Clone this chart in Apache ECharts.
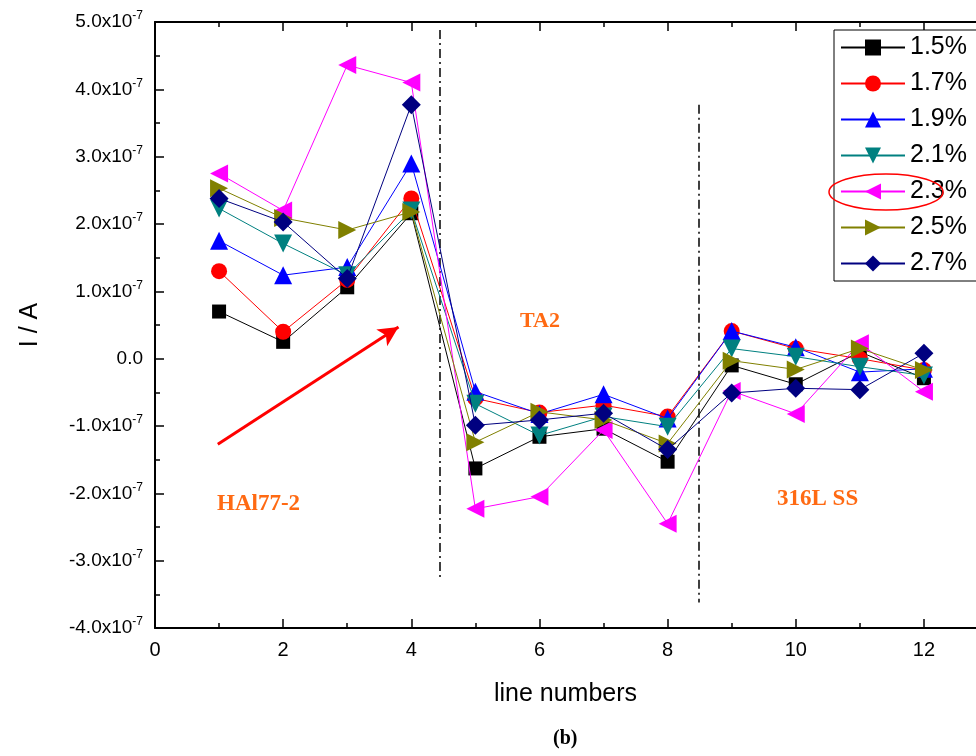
<!DOCTYPE html>
<html>
<head>
<meta charset="utf-8">
<script src="https://cdn.jsdelivr.net/npm/echarts@6/dist/echarts.min.js"></script>
<style>
  html, body { margin: 0; padding: 0; background: #fff; }
  #main { width: 976px; height: 756px; }
</style>
</head>
<body>
<div id="main"></div>
<script>
// line numbers on x axis
var lineNumbers = [1, 2, 3, 4, 5, 6, 7, 8, 9, 10, 11, 12];
// current I, in units of 1e-7 A
var s15 = [0.70, 0.25, 1.06, 2.16, -1.63, -1.16, -1.04, -1.53, -0.10, -0.38, 0.10, -0.29];
var s17 = [1.30, 0.40, 1.17, 2.38, -0.59, -0.80, -0.69, -0.86, 0.41, 0.15, 0.00, -0.17];
var s19 = [1.75, 1.24, 1.36, 2.90, -0.49, -0.82, -0.53, -0.89, 0.41, 0.17, -0.20, -0.15];
var s21 = [2.23, 1.71, 1.24, 2.20, -0.67, -1.14, -0.86, -1.01, 0.15, 0.03, -0.12, -0.25];
var s23 = [2.75, 2.20, 4.36, 4.10, -2.23, -2.05, -1.06, -2.45, -0.48, -0.82, 0.23, -0.49];
var s25 = [2.53, 2.09, 1.91, 2.18, -1.24, -0.79, -0.91, -1.26, -0.03, -0.16, 0.15, -0.17];
var s27 = [2.38, 2.03, 1.19, 3.77, -0.99, -0.91, -0.81, -1.35, -0.51, -0.44, -0.46, 0.08];
var seriesNames = ['1.5%', '1.7%', '1.9%', '2.1%', '2.3%', '2.5%', '2.7%'];
var yTicks = [-4, -3, -2, -1, 0, 1, 2, 3, 4, 5];

var chart = echarts.init(document.getElementById('main'));

function pairs(arr) {
  return arr.map(function (v, i) { return [lineNumbers[i], v]; });
}

var styles = [
  { color: '#000000', symbol: 'rect', rot: 0, size: 14 },
  { color: '#ff0000', symbol: 'circle', rot: 0, size: 16 },
  { color: '#0000ff', symbol: 'triangle', rot: 0, size: 18 },
  { color: '#008080', symbol: 'triangle', rot: 180, size: 18 },
  { color: '#ff00ff', symbol: 'triangle', rot: 90, size: 18 },
  { color: '#808000', symbol: 'triangle', rot: -90, size: 18 },
  { color: '#000080', symbol: 'diamond', rot: 0, size: 19 }
];
var allData = [s15, s17, s19, s21, s23, s25, s27];

var series = allData.map(function (d, i) {
  var st = styles[i];
  return {
    name: seriesNames[i],
    type: 'line',
    data: pairs(d),
    symbol: st.symbol,
    symbolRotate: st.rot,
    symbolSize: st.size,
    showAllSymbol: true,
    color: st.color,
    lineStyle: { width: 1, color: st.color },
    itemStyle: { color: st.color },
    z: 3 + i
  };
});

// divider lines and arrow (data coordinates)
var dashDot = { color: '#000', width: 1.5, type: [9, 4, 2, 4] };
series.push({
  type: 'line',
  data: [],
  silent: true,
  markLine: {
    silent: true,
    symbol: ['none', 'none'],
    label: { show: false },
    lineStyle: dashDot,
    data: [
      [{ coord: [4.45, 4.88] }, { coord: [4.45, -3.26] }],
      [{ coord: [8.48, 3.77] }, { coord: [8.48, -3.62] }]
    ]
  }
});
series.push({
  type: 'line',
  data: [],
  silent: true,
  markLine: {
    silent: true,
    symbol: ['none', 'arrow'],
    symbolSize: [15, 20],
    label: { show: false },
    lineStyle: { color: '#ff0000', width: 3, type: 'solid' },
    data: [
      [{ coord: [0.98, -1.27] }, { coord: [3.8, 0.47] }]
    ]
  }
});

var labelFont = 'Arial, "Liberation Sans", sans-serif';
var serifFont = '"Liberation Serif", "Times New Roman", serif';

var option = {
  animation: false,
  backgroundColor: '#fff',
  grid: { left: 155, top: 22, width: 833, height: 606, outerBoundsMode: 'none', containLabel: false },
  legend: {
    orient: 'vertical',
    left: 834,
    top: 30,
    padding: [5, 30, 5, 6],
    backgroundColor: '#fff',
    borderColor: '#000',
    borderWidth: 1,
    itemWidth: 64,
    itemHeight: 20,
    itemGap: 11,
    data: seriesNames,
    textStyle: { fontFamily: labelFont, fontSize: 25, color: '#000' }
  },
  xAxis: [{
    type: 'value',
    min: 0,
    max: 13,
    interval: 2,
    name: 'line numbers',
    nameLocation: 'middle',
    nameGap: 54,
    nameTextStyle: { fontFamily: '"Liberation Sans Narrow", Arial, sans-serif', fontSize: 25, color: '#000', padding: [0, 12, 0, 0] },
    axisLine: { show: true, onZero: false, lineStyle: { color: '#000', width: 2 } },
    axisTick: { show: true, inside: true, length: 9, lineStyle: { color: '#000', width: 1.5 } },
    minorTick: { show: true, splitNumber: 2, length: 5, lineStyle: { color: '#000', width: 1.5 } },
    splitLine: { show: false },
    axisLabel: {
      margin: 12,
      fontFamily: '"Liberation Sans Narrow", Arial, sans-serif',
      fontSize: 20,
      color: '#000',
      showMaxLabel: false
    }
  }, {
    type: 'value',
    position: 'top',
    min: 0,
    max: 13,
    interval: 2,
    axisLine: { show: true, onZero: false, lineStyle: { color: '#000', width: 2 } },
    axisTick: { show: true, inside: true, length: 9, lineStyle: { color: '#000', width: 1.5 } },
    minorTick: { show: true, splitNumber: 2, length: 5, lineStyle: { color: '#000', width: 1.5 } },
    splitLine: { show: false },
    axisLabel: { show: false }
  }],
  yAxis: {
    type: 'value',
    min: yTicks[0],
    max: yTicks[yTicks.length - 1],
    interval: 1,
    name: 'I / A',
    nameLocation: 'middle',
    nameRotate: 90,
    nameGap: 112,
    nameTextStyle: { fontFamily: labelFont, fontSize: 25, color: '#000' },
    axisLine: { show: true, onZero: false, lineStyle: { color: '#000', width: 2 } },
    axisTick: { show: true, inside: true, length: 9, lineStyle: { color: '#000', width: 1.5 } },
    minorTick: { show: true, splitNumber: 2, length: 5, lineStyle: { color: '#000', width: 1.5 } },
    splitLine: { show: false },
    axisLabel: {
      margin: 12,
      color: '#000',
      formatter: function (v) {
        if (Math.abs(v) < 1e-9) return '{m|0.0}';
        return '{m|' + v.toFixed(1) + 'x10}{s|-7}';
      },
      rich: {
        m: { fontFamily: labelFont, fontSize: 19, color: '#000' },
        s: { fontFamily: labelFont, fontSize: 12, color: '#000', verticalAlign: 'top', padding: [0, 0, 12, 0] }
      }
    }
  },
  graphic: [
    { type: 'text', left: 520, top: 310, style: { text: 'TA2', fontFamily: serifFont, fontWeight: 'bold', fontSize: 22, fill: '#ff6a13' } },
    { type: 'text', left: 217, top: 493, style: { text: 'HAl77-2', fontFamily: serifFont, fontWeight: 'bold', fontSize: 23, fill: '#ff6a13' } },
    { type: 'text', left: 777, top: 488, style: { text: '316L SS', fontFamily: serifFont, fontWeight: 'bold', fontSize: 23, fill: '#ff6a13' } },
    { type: 'ellipse', shape: { cx: 886, cy: 192, rx: 57, ry: 18 }, style: { fill: 'none', stroke: '#ff0000', lineWidth: 1.5 }, z: 100 },
    { type: 'text', left: 553, top: 729, style: { text: '(b)', fontFamily: serifFont, fontWeight: 'bold', fontSize: 20, fill: '#000' } }
  ],
  series: series
};

chart.setOption(option);
</script>
</body>
</html>
